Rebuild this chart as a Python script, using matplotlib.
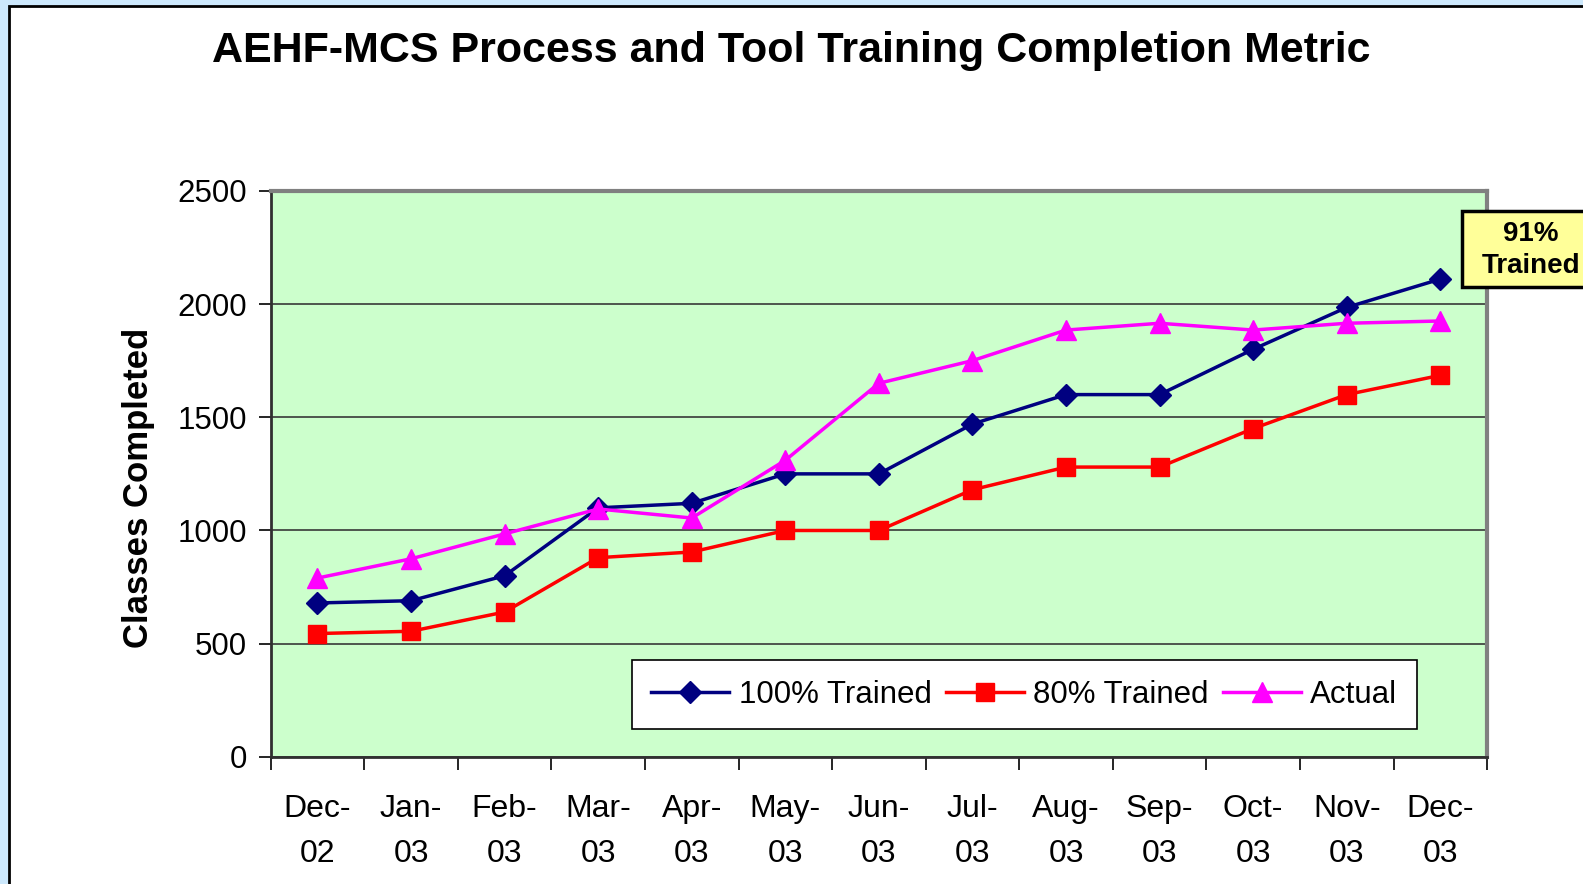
import numpy as np
import matplotlib
matplotlib.use("Agg")
import matplotlib.pyplot as plt
from matplotlib.patches import Rectangle

plt.rcParams['font.family'] = ['Liberation Sans', 'DejaVu Sans']

# Data
months = ['Dec-\n02', 'Jan-\n03', 'Feb-\n03', 'Mar-\n03', 'Apr-\n03', 'May-\n03', 'Jun-\n03',
          'Jul-\n03', 'Aug-\n03', 'Sep-\n03', 'Oct-\n03', 'Nov-\n03', 'Dec-\n03']
trained_100 = [680, 690, 800, 1100, 1120, 1250, 1250, 1470, 1600, 1600, 1800, 1985, 2110]
trained_80 = [545, 555, 640, 880, 905, 1000, 1000, 1180, 1280, 1280, 1450, 1600, 1685]
actual = [790, 875, 985, 1095, 1055, 1310, 1650, 1750, 1885, 1915, 1885, 1915, 1925]
y_ticks = [0, 500, 1000, 1500, 2000, 2500]

W, H = 1583, 884
fig = plt.figure(figsize=(W / 100, H / 100), dpi=100)
fig.patch.set_facecolor('#cce8fc')

# white slide panel with black border
panel = Rectangle((9 / W, -0.1), 1.2, 1 - 6 / H + 0.1, transform=fig.transFigure,
                  facecolor='white', edgecolor='black', linewidth=2, zorder=-5)
fig.patches.append(panel)

ax = fig.add_axes([0.1710, 0.1437, 0.9394 - 0.1710, 0.7842 - 0.1437])
ax.set_facecolor('#ccffcc')

x = np.arange(len(months))
ax.plot(x, trained_100, color='#000080', lw=2.5, marker='D', ms=11, label='100% Trained', zorder=3)
ax.plot(x, trained_80, color='#ff0000', lw=2.5, marker='s', ms=13, label='80% Trained', zorder=3)
ax.plot(x, actual, color='#ff00ff', lw=2.5, marker='^', ms=15, label='Actual', zorder=3)

ax.set_xlim(-0.5, len(months) - 0.5)
ax.set_ylim(0, 2500)
ax.set_yticks(y_ticks)
ax.set_yticklabels([str(v) for v in y_ticks], fontsize=22.5)
ax.yaxis.grid(True, color='#383838', lw=1.2)
ax.set_axisbelow(True)

ax.set_xticks(x)
ax.set_xticklabels(months, fontsize=23, linespacing=1.65)
ax.set_xticks(np.arange(-0.5, len(months)), minor=True)
ax.tick_params(axis='x', which='major', length=0, pad=27)
ax.tick_params(axis='x', which='minor', length=9, width=1.2, direction='out')
ax.tick_params(axis='y', length=9, width=1.2, direction='out', pad=8)

for s in ['top', 'right']:
    ax.spines[s].set_color('#808080')
    ax.spines[s].set_linewidth(3)
for s in ['left', 'bottom']:
    ax.spines[s].set_color('#303030')
    ax.spines[s].set_linewidth(2)

ax.set_ylabel('Classes Completed', fontsize=25, fontweight='bold', va='center')
ax.yaxis.set_label_coords(-0.109, 0.476)

leg = ax.legend(loc='lower right', bbox_to_anchor=(0.955, 0.022), ncol=3, fontsize=22.5,
                frameon=True, fancybox=False, edgecolor='black', framealpha=1,
                handlelength=2.5, handletextpad=0.3, columnspacing=0.45, borderpad=0.62)
leg.get_frame().set_linewidth(1.2)

fig.text(0.4997, 1 - 51 / H, 'AEHF-MCS Process and Tool Training Completion Metric',
         ha='center', va='center', fontsize=31, fontweight='bold')

# yellow callout box running off the right edge
box = Rectangle((1462 / W, 1 - 287 / H), 0.2, 76 / H, transform=fig.transFigure,
                facecolor='#ffff99', edgecolor='black', linewidth=2.5, zorder=5)
fig.patches.append(box)
fig.text(1531 / W, 1 - 250 / H, '91%\nTrained', ha='center', va='center',
         fontsize=20, fontweight='bold', linespacing=1.3, zorder=6)

fig.savefig('out.png', dpi=100, facecolor=fig.get_facecolor())
